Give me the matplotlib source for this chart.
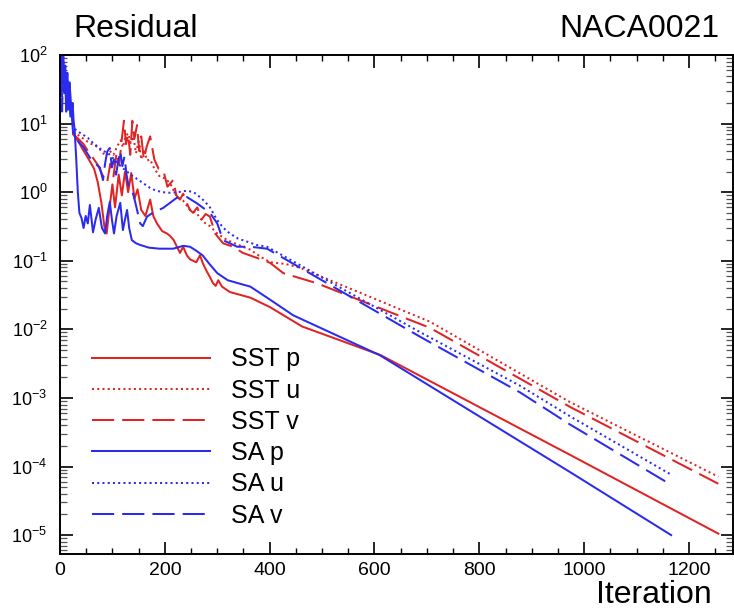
import numpy as np
import matplotlib
matplotlib.use("Agg")
import matplotlib.pyplot as plt
from matplotlib.ticker import LogLocator, MultipleLocator, NullFormatter

plt.rcParams['font.family'] = ['Liberation Sans', 'DejaVu Sans']
plt.rcParams['mathtext.fontset'] = 'custom'
plt.rcParams['mathtext.rm'] = 'Liberation Sans'
plt.rcParams['mathtext.default'] = 'regular'

# ---- residual histories ----
sst_p_it = [25, 35, 45, 55, 65, 72, 79, 85, 89, 94, 100, 105, 112, 118, 124, 130, 136, 142, 148, 155, 163,
            172, 178, 185, 195, 204, 210, 217, 223, 229, 235, 242, 248, 254, 260, 267, 273, 280, 286,
            292, 297, 302, 309, 324, 363, 401, 462, 612, 973, 1256]
sst_p_val = [7.0, 5.5, 4.0, 3.0, 2.2, 1.4, 0.7, 0.3, 0.25, 0.55, 1.3, 0.6, 1.8, 0.9, 2.0, 1.0, 1.9, 0.8, 1.1, 0.55, 0.45,
             0.78, 0.45, 0.35, 0.27, 0.25, 0.23, 0.2, 0.16, 0.13, 0.16, 0.12, 0.105, 0.10, 0.095, 0.12, 0.09, 0.07, 0.058,
             0.047, 0.043, 0.052, 0.042, 0.035, 0.029, 0.021, 0.011, 0.0042, 1.48e-4, 1.05e-5]

sst_u_it = [25, 35, 45, 55, 65, 71, 76, 82, 88, 95, 102, 110, 116, 120, 125, 130, 135, 140, 145, 150,
            155, 160, 166, 172, 180, 191, 200, 210, 223, 235, 248, 260, 273, 286, 300, 319, 349, 363,
            382, 401, 430, 458, 706, 973, 1256]
sst_u_val = [7.5, 6.8, 6.0, 5.3, 4.8, 4.6, 4.2, 3.7, 3.4, 4.0, 3.5, 4.8, 5.7, 4.5, 6.5, 7.2, 5.2, 6.5, 3.7, 5.5,
             3.0, 4.2, 2.9, 3.0, 2.2, 1.66, 1.6, 1.35, 0.85, 0.75, 0.55, 0.5, 0.37, 0.32, 0.25, 0.2, 0.16, 0.145,
             0.115, 0.095, 0.09, 0.079, 0.0129, 8.7e-4, 7.1e-5]

sst_v_it = [25, 35, 45, 55, 65, 72, 78, 84, 90, 96, 102, 108, 113, 118, 122, 126, 130, 134, 138, 142,
            147, 151, 155, 160, 165, 172, 180, 188, 197, 205, 216, 222, 229, 235, 242, 248, 254, 262,
            270, 278, 286, 296, 311, 330, 349, 376, 401, 426, 490, 706, 973, 1256]
sst_v_val = [7.0, 6.0, 5.0, 3.8, 3.0, 2.5, 2.0, 1.6, 1.4, 2.6, 1.7, 3.8, 2.5, 6.0, 11.0, 5.0, 7.0, 3.5, 11.0, 6.0,
             9.5, 4.0, 6.5, 3.0, 4.5, 6.5, 3.0, 2.2, 2.1, 1.2, 1.5, 0.9, 0.78, 0.95, 0.69, 0.55, 0.5, 0.6,
             0.4, 0.48, 0.44, 0.25, 0.18, 0.16, 0.13, 0.11, 0.093, 0.066, 0.047, 0.0105, 7.4e-4, 5.6e-5]

sa_p_it = [0, 2, 4, 6, 8, 10, 12, 14, 16, 18, 20, 22, 24, 26, 28, 31, 34, 37, 41, 45, 49, 53, 57, 63,
           68, 74, 80, 86, 90, 95, 99, 103, 108, 115, 120, 124, 128, 132, 137, 145, 153, 170, 190, 216,
           235, 248, 260, 272, 285, 300, 320, 340, 363, 401, 445, 610, 973, 1166]
sa_p_val = [45, 95, 30, 110, 40, 70, 22, 55, 18, 40, 25, 14, 20, 11, 8.0, 3.0, 1.0, 0.5, 0.42, 0.3, 0.45, 0.35, 0.65, 0.26,
            0.4, 0.59, 0.3, 0.25, 0.45, 0.72, 0.4, 0.25, 0.45, 0.7, 0.28, 0.4, 0.55, 0.3, 0.2, 0.18, 0.17, 0.155, 0.15, 0.15,
            0.165, 0.16, 0.14, 0.12, 0.09, 0.066, 0.052, 0.047, 0.042, 0.027, 0.016, 0.0042, 8.3e-5, 1.0e-5]

sa_u_it = [0, 2, 4, 6, 8, 10, 12, 14, 16, 18, 20, 22, 25, 35, 45, 53, 62, 72, 82, 92, 105, 118, 135,
           156, 172, 181, 195, 210, 225, 242, 255, 267, 277, 286, 300, 312, 324, 340, 357, 375, 395,
           687, 878, 973, 1166]
sa_u_val = [30, 80, 20, 120, 35, 60, 18, 45, 22, 30, 14, 18, 8.7, 7.6, 6.8, 6.2, 5.3, 4.6, 4.0, 3.7, 2.9, 2.3, 1.8,
            1.4, 1.15, 1.07, 1.0, 0.98, 1.0, 1.05, 1.0, 0.85, 0.72, 0.6, 0.39, 0.3, 0.25, 0.21, 0.19, 0.17, 0.16,
            9.1e-3, 1.5e-3, 5.4e-4, 7.6e-5]

sa_v_it = [0, 2, 4, 6, 8, 10, 12, 14, 16, 18, 20, 22, 25, 32, 45, 57, 70, 76, 82, 86, 90, 95, 99, 103,
           107, 111, 115, 119, 123, 127, 131, 137, 142, 147, 153, 158, 166, 177, 197, 210, 223, 242, 261,
           286, 300, 311, 338, 363, 395, 687, 878, 973, 1166]
sa_v_val = [25, 60, 15, 90, 28, 45, 13, 35, 16, 25, 12, 15, 7.0, 5.8, 4.5, 3.2, 2.5, 2.3, 1.5, 2.6, 3.9, 4.4, 2.3, 3.0,
            1.8, 2.8, 4.0, 2.4, 3.3, 1.8, 1.2, 1.1, 0.8, 0.55, 0.35, 0.32, 0.44, 0.5, 0.59, 0.7, 0.83, 0.85, 0.69,
            0.5, 0.35, 0.2, 0.16, 0.16, 0.15, 7.8e-3, 1.2e-3, 4.1e-4, 5.4e-5]

labels = ["SST p", "SST u", "SST v", "SA p", "SA u", "SA v"]
RED = "#e02424"
BLUE = "#2b2bf0"
DOT = (0, (1.0, 1.6))
DASH = (0, (11, 4))

fig = plt.figure(figsize=(7.34, 6.11), dpi=100)
ax = fig.add_axes([60 / 734, 57 / 611, 673 / 734, 499 / 611])

lw = 1.45
ax.plot(sst_p_it, sst_p_val, color=RED, lw=lw, ls="-", label=labels[0])
ax.plot(sst_u_it, sst_u_val, color=RED, lw=lw, ls=DOT, label=labels[1])
ax.plot(sst_v_it, sst_v_val, color=RED, lw=lw, ls=DASH, label=labels[2])
ax.plot(sa_p_it, sa_p_val, color=BLUE, lw=lw, ls="-", label=labels[3])
ax.plot(sa_u_it, sa_u_val, color=BLUE, lw=lw, ls=DOT, label=labels[4])
ax.plot(sa_v_it, sa_v_val, color=BLUE, lw=lw, ls=DASH, label=labels[5])

ax.set_yscale("log")
ax.set_xlim(0, 1284)
ax.set_ylim(5.3e-6, 100)

ax.xaxis.set_major_locator(MultipleLocator(200))
ax.xaxis.set_minor_locator(MultipleLocator(50))
ax.yaxis.set_major_locator(LogLocator(base=10, numticks=10))
ax.yaxis.set_minor_locator(LogLocator(base=10, subs=np.arange(2, 10), numticks=10))
ax.yaxis.set_minor_formatter(NullFormatter())

for s in ax.spines.values():
    s.set_linewidth(1.4)
ax.tick_params(which="both", direction="in", top=True, right=True, width=1.2)
ax.tick_params(axis="x", which="major", length=9, labelsize=14, pad=6)
ax.tick_params(axis="x", which="minor", length=4, width=1.0)
ax.tick_params(axis="y", which="major", length=9, labelsize=13, pad=9)
ax.tick_params(axis="y", which="minor", length=5, width=0.9, color="#555555")

leg = ax.legend(loc="upper left", bbox_to_anchor=(0.048, 0.414), frameon=False,
                fontsize=18, handlelength=4.7, handletextpad=0.85, labelspacing=0.29,
                borderpad=0, borderaxespad=0)

fig.text(73 / 734, 1 - 37 / 611, "Residual", fontsize=23, ha="left", va="baseline")
fig.text(720 / 734, 1 - 37 / 611, "NACA0021", fontsize=23, ha="right", va="baseline")
fig.text(712 / 734, 1 / 611, "Iteration", fontsize=23, ha="right", va="bottom")

fig.savefig("out.png", dpi=100)
